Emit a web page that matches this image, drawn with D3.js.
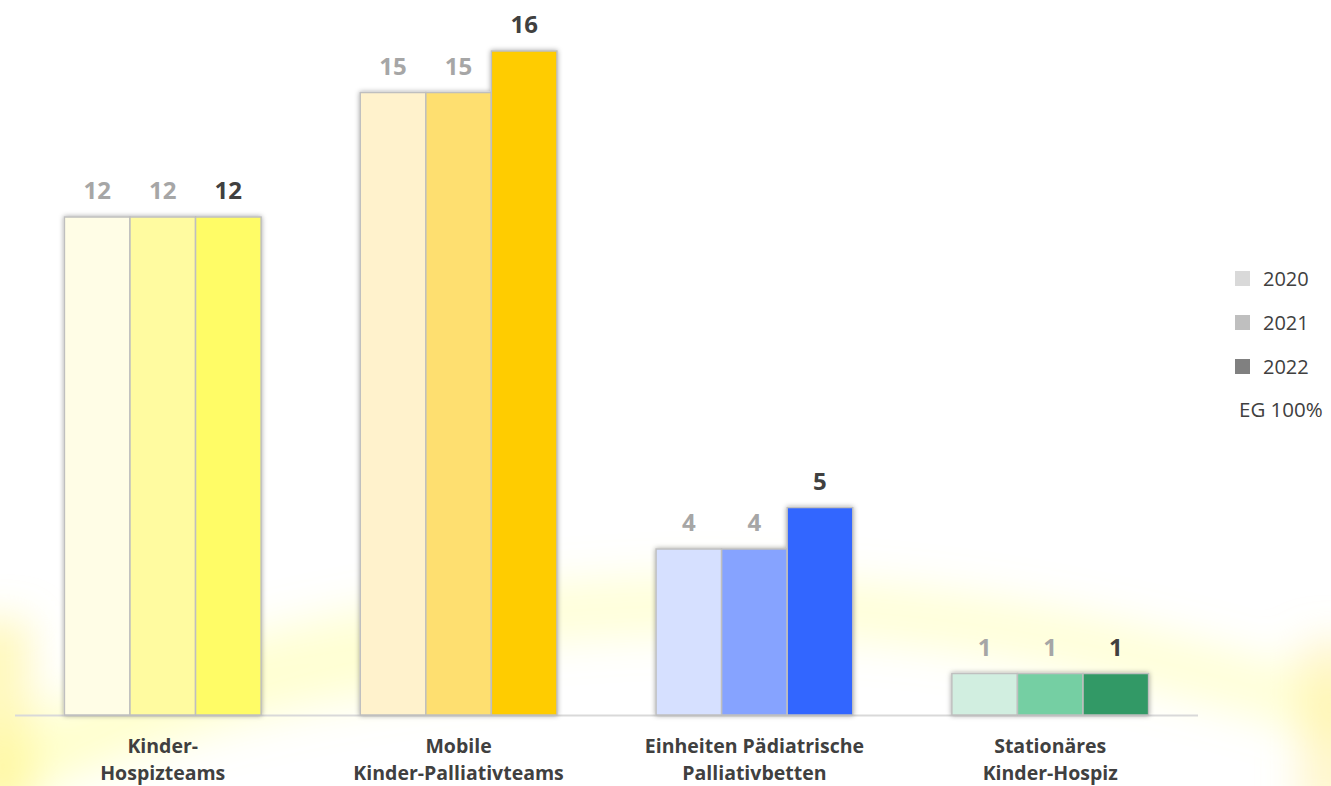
<!DOCTYPE html>
<html><head><meta charset="utf-8">
<script src="https://cdn.jsdelivr.net/npm/d3@7"></script>
<style>html,body{margin:0;padding:0;background:#fff;}svg{display:block;}</style>
</head><body>
<svg id="chart" width="1331" height="786"></svg>
<script>
const categories = [["Kinder-","Hospizteams"],["Mobile","Kinder-Palliativteams"],["Einheiten Pädiatrische","Palliativbetten"],["Stationäres","Kinder-Hospiz"]];
const years = ["2020","2021","2022"];
const values2020 = [12, 15, 4, 1];
const values2021 = [12, 15, 4, 1];
const values2022 = [12, 16, 5, 1];
const barColors = [
  ["#fffde6","#fffba0","#fffc66"],
  ["#fff2cc","#fedf6f","#ffcc00"],
  ["#d6e0ff","#86a3ff","#3366ff"],
  ["#d1eee0","#75cfa3","#339966"]
];
const legendColors = ["#d9d9d9","#bfbfbf","#808080"];
const legendExtra = "EG 100%";

const W = 1331, H = 786;
const svg = d3.select("#chart");
const defs = svg.append("defs");
const blur = defs.append("filter").attr("id","blur").attr("x","-50%").attr("y","-50%").attr("width","200%").attr("height","200%");
blur.append("feGaussianBlur").attr("stdDeviation",20);
const sh = defs.append("filter").attr("id","shadow").attr("x","-20%").attr("y","-20%").attr("width","140%").attr("height","140%");
sh.append("feDropShadow").attr("dx",0).attr("dy",0).attr("stdDeviation",2.5).attr("flood-color","#000").attr("flood-opacity",0.35);

// background glow
const bg = svg.append("g").attr("filter","url(#blur)");
bg.append("path").attr("d","M-20,770 C200,650 450,610 700,605 C950,605 1150,650 1360,720")
  .attr("fill","none").attr("stroke","#ffff80").attr("stroke-width",60).attr("opacity",0.3);
bg.append("path").attr("d","M-20,800 C150,720 300,680 500,660")
  .attr("fill","none").attr("stroke","#ffff80").attr("stroke-width",50).attr("opacity",0.25);
bg.append("rect").attr("x",-40).attr("y",620).attr("width",70).attr("height",200).attr("fill","#fff27a").attr("opacity",0.5);
bg.append("rect").attr("x",1300).attr("y",640).attr("width",70).attr("height",180).attr("fill","#ffe880").attr("opacity",0.4);

const x0 = d3.scaleBand().domain(d3.range(categories.length)).range([15,1198]).paddingInner(0.335).paddingOuter(0.167);
const x1 = d3.scaleBand().domain(years).range([0,x0.bandwidth()]);
const y = d3.scaleLinear().domain([0,12]).range([715,217]);

const series = [values2020, values2021, values2022];
const data = [];
categories.forEach((c,i)=>years.forEach((yr,j)=>data.push({i,j,yr,v:series[j][i]})));

// axis line
svg.append("line").attr("x1",15).attr("x2",1198).attr("y1",y(0)+0.5).attr("y2",y(0)+0.5)
  .attr("stroke","#d9d9d9").attr("stroke-width",2);

const gb = svg.append("g");
categories.forEach((c,i)=>{
  const g = gb.append("g").attr("filter","url(#shadow)");
  g.selectAll("rect").data(data.filter(d=>d.i===i)).join("rect")
    .attr("x",d=>x0(d.i)+x1(d.yr))
    .attr("y",d=>y(d.v))
    .attr("width",x1.bandwidth())
    .attr("height",d=>y(0)-y(d.v))
    .attr("fill",d=>barColors[d.i][d.j])
    .attr("stroke","#bfbfbf").attr("stroke-width",1.5);
});

svg.append("g").selectAll("text").data(data).join("text")
  .attr("x",d=>x0(d.i)+x1(d.yr)+x1.bandwidth()/2)
  .attr("y",d=>y(d.v)-18)
  .attr("text-anchor","middle")
  .attr("font-family","'Open Sans', sans-serif").attr("font-weight","bold").attr("font-size",24)
  .attr("fill",d=>d.j===2?"#404040":"#a6a6a6")
  .text(d=>d.v);

// category labels
const cl = svg.append("g");
categories.forEach((c,i)=>{
  const t = cl.append("text").attr("text-anchor","middle")
    .attr("font-family","'Open Sans', sans-serif").attr("font-weight","bold").attr("font-size",19.5).attr("fill","#404040");
  c.forEach((line,k)=>t.append("tspan").attr("x",x0(i)+x0.bandwidth()/2).attr("y",753+k*27).text(line));
});

// legend
const lg = svg.append("g");
years.forEach((yr,k)=>{
  lg.append("rect").attr("x",1235).attr("y",271+k*44).attr("width",15).attr("height",15).attr("fill",legendColors[k]);
  lg.append("text").attr("x",1263).attr("y",286+k*44).attr("font-family","'Open Sans', sans-serif")
    .attr("font-size",20).attr("fill","#404040").text(yr);
});
lg.append("text").attr("x",1239).attr("y",417).attr("font-family","'Open Sans', sans-serif")
  .attr("font-size",20.5).attr("fill","#404040").text(legendExtra);
</script>
</body></html>
